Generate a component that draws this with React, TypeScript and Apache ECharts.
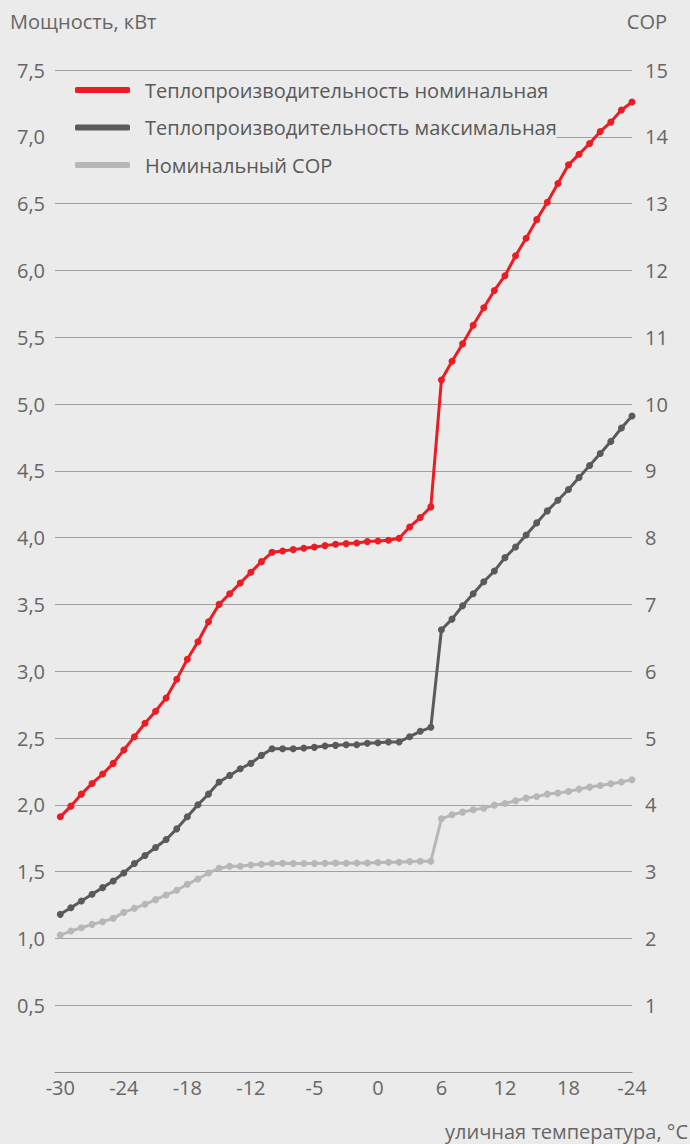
import React, { useEffect, useRef } from "react";
import * as echarts from "echarts";

const categories = [
  -30, -29, -28, -27, -26, -25, -24, -23, -22, -21, -20, -19, -18, -17, -16, -15, -14, -13, -12, -11,
  -10, -9, -8, -7, -6, -5, -4, -3, -2, -1, 0, 1, 2, 3, 4, 5, 6, 7, 8, 9,
  10, 11, 12, 13, 14, 15, 16, 17, 18, 19, 20, 21, 22, 23, 24,
];

const tickValues = [-30, -24, -18, -12, -6, 0, 6, 12, 18, 24];
const tickLabels = ["-30", "-24", "-18", "-12", "-5", "0", "6", "12", "18", "-24"];

const nominalHeat = [
  1.91, 1.99, 2.08, 2.16, 2.23, 2.31, 2.41, 2.51, 2.61, 2.70, 2.80, 2.94, 3.09, 3.22, 3.37, 3.50, 3.58, 3.66, 3.74, 3.82,
  3.89, 3.90, 3.91, 3.92, 3.93, 3.94, 3.95, 3.955, 3.96, 3.97, 3.975, 3.98, 3.995, 4.08, 4.15, 4.23, 5.18, 5.32, 5.45, 5.59,
  5.72, 5.85, 5.96, 6.11, 6.24, 6.38, 6.51, 6.65, 6.79, 6.87, 6.95, 7.04, 7.11, 7.20, 7.26,
];

const maxHeat = [
  1.18, 1.23, 1.28, 1.33, 1.38, 1.43, 1.49, 1.56, 1.62, 1.68, 1.74, 1.82, 1.91, 2.00, 2.08, 2.17, 2.22, 2.27, 2.31, 2.37,
  2.42, 2.42, 2.42, 2.425, 2.43, 2.44, 2.445, 2.45, 2.45, 2.46, 2.465, 2.47, 2.47, 2.51, 2.55, 2.58, 3.31, 3.39, 3.49, 3.58,
  3.67, 3.75, 3.85, 3.93, 4.02, 4.11, 4.20, 4.28, 4.36, 4.45, 4.54, 4.63, 4.72, 4.82, 4.91,
];

const nominalCop = [
  2.05, 2.11, 2.16, 2.21, 2.25, 2.30, 2.39, 2.45, 2.51, 2.58, 2.65, 2.72, 2.81, 2.89, 2.98, 3.05, 3.08, 3.08, 3.10, 3.11,
  3.12, 3.125, 3.12, 3.12, 3.12, 3.125, 3.13, 3.125, 3.13, 3.13, 3.135, 3.14, 3.14, 3.15, 3.155, 3.155, 3.79, 3.85, 3.89, 3.925,
  3.95, 3.995, 4.02, 4.06, 4.10, 4.125, 4.16, 4.175, 4.20, 4.235, 4.265, 4.29, 4.315, 4.34, 4.375,
];

const seriesNames = [
  "Теплопроизводительность номинальная",
  "Теплопроизводительность максимальная",
  "Номинальный COP",
];

const FONT = "'Open Sans', sans-serif";
const TEXT_COLOR = "#666666";
const FS = 20;

export default function App() {
  const ref = useRef<HTMLDivElement>(null);

  useEffect(() => {
    if (!ref.current) return;
    const chart = echarts.init(ref.current, null, { renderer: "svg" });
    const pairs = (vals: number[]) => categories.map((c, i) => [c, vals[i]]);
    const lineSeries = (name: string, vals: number[], color: string, yAxisIndex: number, z: number) => ({
      name,
      type: "line",
      yAxisIndex,
      data: pairs(vals),
      symbol: "circle",
      symbolSize: 7,
      z,
      lineStyle: { color, width: 3 },
      itemStyle: { color },
      emphasis: { disabled: true },
    });

    const titleText = (text: string, x: number, y: number, align: string) => ({
      type: "text",
      x,
      y,
      style: {
        text,
        fill: TEXT_COLOR,
        fontSize: FS,
        fontFamily: FONT,
        align,
        verticalAlign: "middle",
      },
    });

    chart.setOption({
      animation: false,
      backgroundColor: "#ebebeb",
      textStyle: { fontFamily: FONT },
      grid: { left: 55, right: 58, top: 70, bottom: 72, containLabel: false },
      legend: {
        orient: "vertical",
        left: 55,
        top: 75,
        padding: [4, 0, 4, 20],
        backgroundColor: "#ebebeb",
        icon: "roundRect",
        itemWidth: 55,
        itemHeight: 6,
        itemGap: 15.5,
        data: seriesNames,
        textStyle: {
          fontFamily: FONT,
          fontSize: FS,
          color: "#595959",
          lineHeight: 22,
          padding: [0, 0, 0, 10],
        },
      },
      xAxis: {
        type: "value",
        min: -30.5,
        max: 24,
        axisLine: { show: true, lineStyle: { color: "#8c8c8c", width: 1 } },
        axisTick: { show: false },
        splitLine: { show: false },
        axisLabel: {
          customValues: tickValues,
          formatter: (v: number) => {
            const idx = tickValues.indexOf(v);
            return idx >= 0 ? tickLabels[idx] : "";
          },
          color: TEXT_COLOR,
          fontSize: FS,
          fontFamily: FONT,
          margin: 5,
        },
      },
      yAxis: [
        {
          type: "value",
          min: 0,
          max: 7.5,
          interval: 0.5,
          axisLine: { show: false },
          axisTick: { show: false },
          splitLine: { show: true, lineStyle: { color: "#a0a0a0", width: 1 } },
          axisLabel: {
            formatter: (v: number) => (v === 0 ? "" : v.toFixed(1).replace(".", ",")),
            color: TEXT_COLOR,
            fontSize: FS,
            fontFamily: FONT,
            margin: 10,
          },
        },
        {
          type: "value",
          min: 0,
          max: 15,
          interval: 1,
          position: "right",
          axisLine: { show: false },
          axisTick: { show: false },
          splitLine: { show: false },
          axisLabel: {
            formatter: (v: number) => (v === 0 ? "" : String(v)),
            color: TEXT_COLOR,
            fontSize: FS,
            fontFamily: FONT,
            margin: 13,
          },
        },
      ],
      graphic: [
        titleText("Мощность, кВт", 10, 21, "left"),
        titleText("COP", 667, 21, "right"),
        titleText("уличная температура, °C", 688, 1131, "right"),
      ],
      series: [
        lineSeries(seriesNames[0], nominalHeat, "#ec1c24", 0, 3),
        lineSeries(seriesNames[1], maxHeat, "#5a5a5a", 0, 2),
        lineSeries(seriesNames[2], nominalCop, "#b5b7b9", 1, 1),
      ],
    });

    return () => chart.dispose();
  }, []);

  return (
    <div
      ref={ref}
      style={{ position: "fixed", left: 0, top: 0, width: 690, height: 1144, overflow: "hidden" }}
    />
  );
}
